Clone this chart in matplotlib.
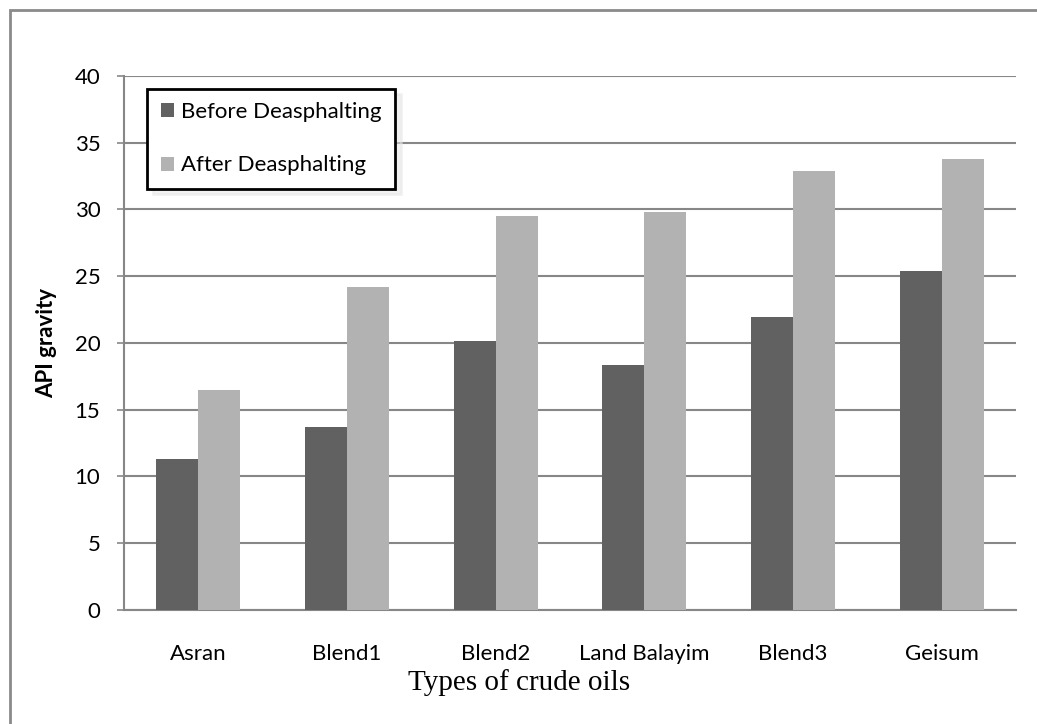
import numpy as np
import matplotlib.pyplot as plt
from matplotlib.patches import Rectangle

# Data
oils = ['Asran', 'Blend1', 'Blend2', 'Land Balayim', 'Blend3', 'Geisum']
before = [11.3, 13.7, 20.1, 18.3, 21.9, 25.4]
after = [16.5, 24.2, 29.5, 29.8, 32.9, 33.8]
yticks = [0, 5, 10, 15, 20, 25, 30, 35, 40]

dark = '#616161'
light = '#b2b2b2'
grid_col = '#878787'
sans = ['Lato', 'DejaVu Sans']

fig = plt.figure(figsize=(10.37, 7.24), dpi=100)
ax = fig.add_axes([0.1196, 0.158, 0.8601, 0.737])

x = np.arange(len(oils))
w = 0.283
ax.bar(x - w / 2, before, w, color=dark, label='Before Deasphalting', zorder=3)
ax.bar(x + w / 2, after, w, color=light, label='After Deasphalting', zorder=3)

ax.set_xlim(-0.5, len(oils) - 0.5)
ax.set_ylim(0, 40)
ax.set_yticks(yticks)
ax.set_yticklabels([str(v) for v in yticks], family=sans, fontsize=16)
ax.set_xticks(x)
ax.set_xticklabels(oils, family=sans, fontsize=16)
ax.tick_params(axis='x', length=0, pad=25)
ax.tick_params(axis='y', length=5, width=1.2, color=grid_col, pad=12)
ax.yaxis.grid(True, color=grid_col, linewidth=1.5, zorder=0)

for s in ['top', 'right']:
    ax.spines[s].set_visible(False)
ax.spines['left'].set_color(grid_col)
ax.spines['left'].set_linewidth(1.5)
ax.spines['bottom'].set_color(grid_col)
ax.spines['bottom'].set_linewidth(1.5)

ax.set_ylabel('API gravity', family=sans, fontsize=16, fontweight='bold', va='center')
ax.yaxis.set_label_coords(-0.0863, 0.5)
ax.set_xlabel('Types of crude oils', family=['Liberation Serif'], fontsize=21, va='center')
ax.xaxis.set_label_coords(0.443, (609.7 - 683) / 533.7)

leg = ax.legend(loc='upper left', bbox_to_anchor=(0.026, 0.976), borderaxespad=0,
                prop={'family': sans, 'size': 16}, frameon=True, fancybox=False, edgecolor='black',
                handlelength=0.61, handleheight=0.61, handletextpad=0.33, labelspacing=1.5, borderpad=0.6,
                shadow={'color': '0.9', 'ox': 4, 'oy': -4})
leg.get_frame().set_linewidth(2)

# outer chart border
fig.patches.append(Rectangle((10 / 1037, -0.05), 1.1, 1 - 10 / 724 + 0.05, transform=fig.transFigure,
                             fill=False, edgecolor='#8a8a8a', linewidth=2))

fig.savefig('out.png', dpi=100)
